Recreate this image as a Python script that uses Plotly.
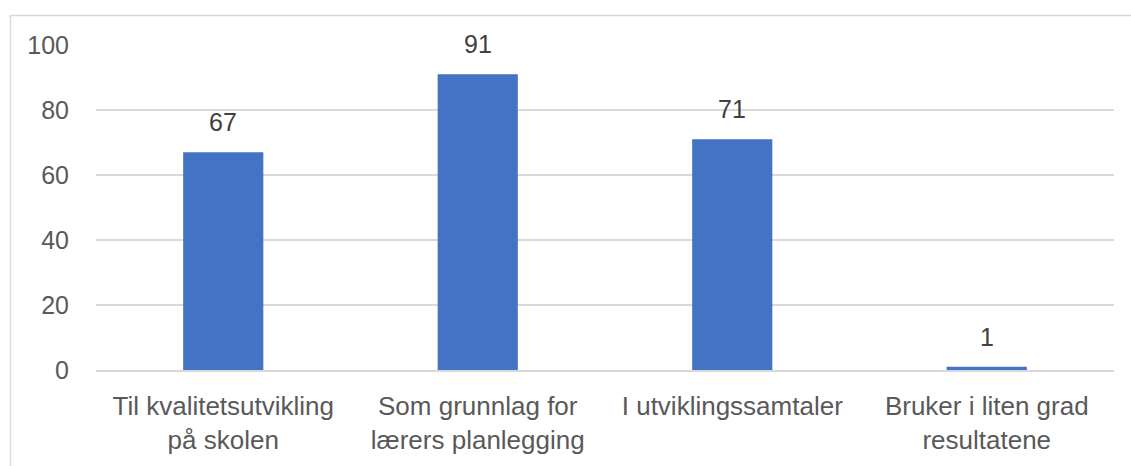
import plotly.graph_objects as go

categories = ["Til kvalitetsutvikling<br>på skolen", "Som grunnlag for<br>lærers planlegging",
              "I utviklingssamtaler", "Bruker i liten grad<br>resultatene"]
values = [67, 91, 71, 1]
y_ticks = [0, 20, 40, 60, 80, 100]

W, H = 1131, 466
L, R, T, B = 96, 17, 45, 96
pw, ph = W - L - R, H - T - B

fig = go.Figure()
fig.add_trace(go.Bar(x=categories, y=values, marker=dict(color="#4472C4", line=dict(width=0)),
                     width=0.315, hoverinfo="skip"))

for c, v in zip(categories, values):
    fig.add_annotation(x=c, y=v, text=str(v), showarrow=False, yanchor="bottom", yshift=14,
                       font=dict(family="Liberation Sans", size=25, color="#404040"))

def px_x(p):
    return (p - L) / pw

def px_y(p):
    return (H - B - p) / ph

fig.add_shape(type="rect", xref="paper", yref="paper",
              x0=px_x(10.5), x1=px_x(1140), y0=px_y(480), y1=px_y(15.5),
              line=dict(color="#D9D9D9", width=1.5), fillcolor="rgba(0,0,0,0)", layer="below")

fig.update_layout(
    width=W, height=H,
    margin=dict(l=L, r=R, t=T, b=B, pad=0, autoexpand=False),
    paper_bgcolor="white", plot_bgcolor="white",
    showlegend=False,
    font=dict(family="Liberation Sans", size=25, color="#595959"),
    bargap=0.685,
)
fig.update_xaxes(showgrid=False, showline=True, linecolor="#D9D9D9", linewidth=1.5,
                 ticks="", tickfont=dict(size=26, color="#595959"), ticklabelstandoff=12,
                 automargin=False, fixedrange=True)
fig.update_yaxes(range=[0, 100], tickvals=y_ticks, showgrid=True, gridcolor="#D9D9D9",
                 gridwidth=1.5, zeroline=False, showline=False, ticks="",
                 tickfont=dict(size=25, color="#595959"), ticklabelstandoff=26,
                 automargin=False, fixedrange=True)

fig.write_html("out.html", config={"displayModeBar": False},
               post_script="document.body.style.margin='0';document.body.style.overflow='hidden';")
